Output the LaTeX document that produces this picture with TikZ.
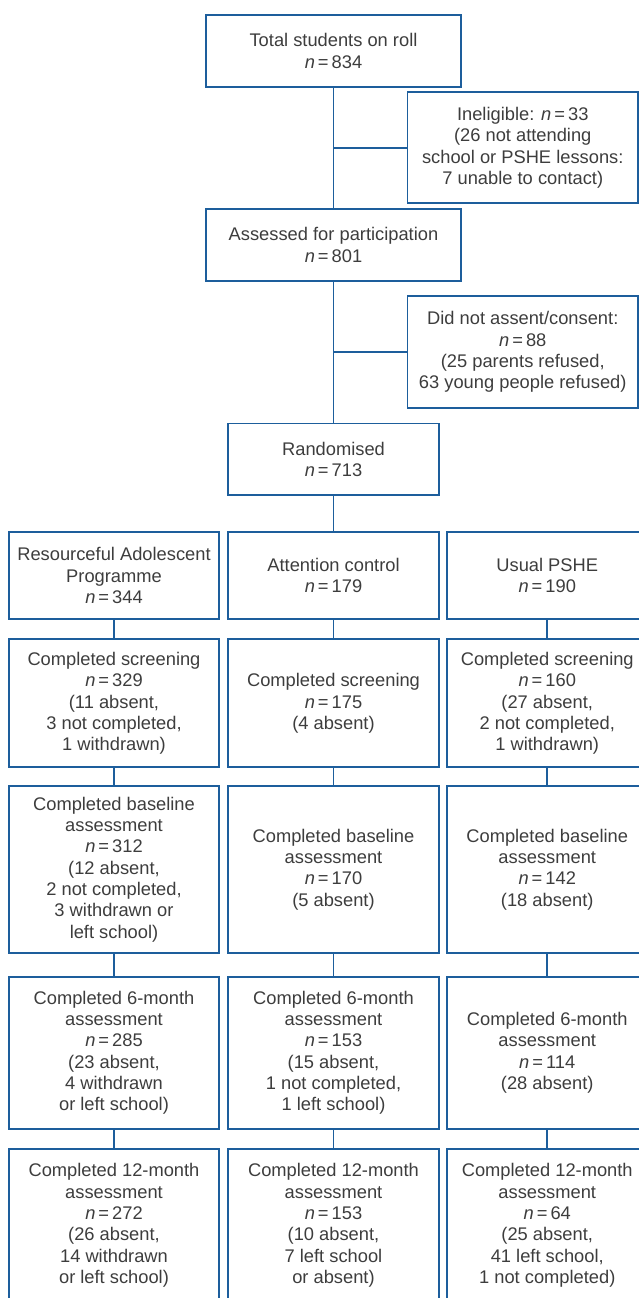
\documentclass[tikz,border=0pt]{standalone}
\usepackage{fontspec}
\setmainfont{Liberation Sans}
\usepackage{xcolor}
\usepackage{tikz}
\usetikzlibrary{positioning,calc}

\definecolor{flowblue}{HTML}{1D5E9C}
\definecolor{flowgrey}{HTML}{3D3D3D}
\newcommand{\nval}[1]{\textit{n}\,=\,#1}

\begin{document}
\begin{tikzpicture}[x=1pt,y=1pt,
		box/.style={draw=flowblue, line width=1.8pt, outer sep=0pt, inner sep=2pt, align=center, text=flowgrey, font=\fontsize{18.3}{21.3}\selectfont},
		mainbox/.style={box, minimum width=255pt, minimum height=72pt},
		sidebox/.style={box, minimum width=230.5pt, minimum height=111pt},
		armbox/.style={box, minimum width=210.5pt},
		rowa/.style={minimum height=87.6pt},
		rowb/.style={minimum height=128pt},
		rowc/.style={minimum height=167.6pt},
		rowd/.style={minimum height=152pt},
		link/.style={draw=flowblue, line width=1.8pt}]
		\useasboundingbox (0,0) rectangle (639,-1298);
		\node[mainbox] (total) at (333.5,-50.85) {Total students on roll\\\nval{834}};
		\node[mainbox, below=122pt of total] (assessed) {Assessed for participation\\\nval{801}};
		\node[box, minimum width=210.5pt, minimum height=71.3pt, below=142.7pt of assessed] (rand) {Randomised\\\nval{713}};
		\coordinate (b1) at ($(total.south)!0.5!(assessed.north)$);
		\coordinate (b2) at ($(assessed.south)!0.5!(rand.north)$);
		\node[sidebox, right=74pt of b1] (inelig) {Ineligible: \nval{33}\\(26 not attending\\school or PSHE lessons:\\7 unable to contact)};
		\node[sidebox, minimum height=112pt, right=74pt of b2] (refused) {Did not assent/consent:\\\nval{88}\\(25 parents refused,\\63 young people refused)};

		\node[armbox, rowa, below=36.9pt of rand] (acgrp) {Attention control\\\nval{179}};
		\node[armbox, rowa, left=9pt of acgrp] (rapgrp) {Resourceful Adolescent\\Programme\\\nval{344}};
		\node[armbox, rowa, minimum width=200pt, right=8.5pt of acgrp] (usgrp) {Usual PSHE\\\nval{190}};

		\node[armbox, rowb, below=20pt of rapgrp] (rapscr) {Completed screening\\\nval{329}\\(11 absent,\\3 not completed,\\1 withdrawn)};
		\node[armbox, rowb, below=20pt of acgrp] (acscr) {Completed screening\\\nval{175}\\(4 absent)};
		\node[armbox, rowb, minimum width=200pt, below=20pt of usgrp] (usscr) {Completed screening\\\nval{160}\\(27 absent,\\2 not completed,\\1 withdrawn)};

		\node[armbox, rowc, below=18.4pt of rapscr] (rapbase) {Completed baseline\\assessment\\\nval{312}\\(12 absent,\\2 not completed,\\3 withdrawn or\\left school)};
		\node[armbox, rowc, below=18.4pt of acscr] (acbase) {Completed baseline\\assessment\\\nval{170}\\(5 absent)};
		\node[armbox, rowc, minimum width=200pt, below=18.4pt of usscr] (usbase) {Completed baseline\\assessment\\\nval{142}\\(18 absent)};

		\node[armbox, rowd, below=23.4pt of rapbase] (rapsix) {Completed 6-month\\assessment\\\nval{285}\\(23 absent,\\4 withdrawn\\or left school)};
		\node[armbox, rowd, below=23.4pt of acbase] (acsix) {Completed 6-month\\assessment\\\nval{153}\\(15 absent,\\1 not completed,\\1 left school)};
		\node[armbox, rowd, minimum width=200pt, below=23.4pt of usbase] (ussix) {Completed 6-month\\assessment\\\nval{114}\\(28 absent)};

		\node[armbox, rowd, below=20.6pt of rapsix] (raptwelve) {Completed 12-month\\assessment\\\nval{272}\\(26 absent,\\14 withdrawn\\or left school)};
		\node[armbox, rowd, below=20.6pt of acsix] (actwelve) {Completed 12-month\\assessment\\\nval{153}\\(10 absent,\\7 left school\\or absent)};
		\node[armbox, rowd, minimum width=200pt, below=20.6pt of ussix] (ustwelve) {Completed 12-month\\assessment\\\nval{64}\\(25 absent,\\41 left school,\\1 not completed)};

		\draw[link] (total) -- (assessed) -- (rand) -- (acgrp);
		\draw[link] (b1) -- (inelig);
		\draw[link] (b2) -- (refused);
		\draw[link] (rapgrp) -- (rapscr) -- (rapbase) -- (rapsix) -- (raptwelve);
		\draw[link] (acgrp) -- (acscr) -- (acbase) -- (acsix) -- (actwelve);
		\draw[link] (usgrp) -- (usscr) -- (usbase) -- (ussix) -- (ustwelve);
\end{tikzpicture}
\end{document}
